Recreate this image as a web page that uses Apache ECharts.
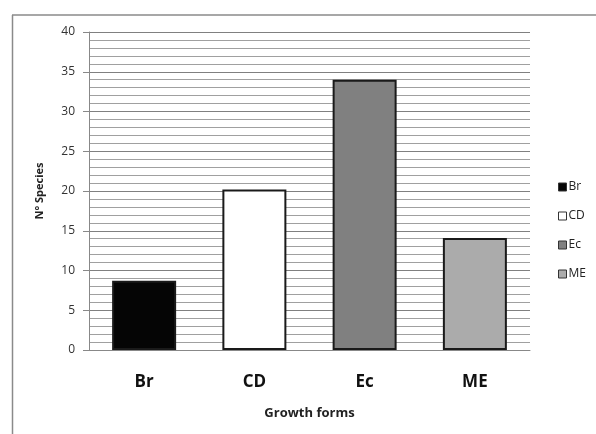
<!DOCTYPE html>
<html>
<head>
<meta charset="utf-8">
<script src="https://cdn.jsdelivr.net/npm/echarts@6/dist/echarts.min.js"></script>
<style>html,body{margin:0;padding:0;background:#fff}#c{width:596px;height:434px}</style>
</head>
<body>
<div id="c"></div>
<script>
var categories = ['Br', 'CD', 'Ec', 'ME'];
var values = [8.7, 20.2, 34.0, 14.1];
var colors = ['#050505', '#ffffff', '#808080', '#ababab'];
var yTicks = [0, 5, 10, 15, 20, 25, 30, 35, 40];

var chart = echarts.init(document.getElementById('c'), null, {renderer: 'canvas'});
var series = categories.map(function (name, i) {
  return {
    name: name,
    type: 'bar',
    barWidth: 64,
    barGap: '-100%',
    data: categories.map(function (c, j) { return j === i ? values[i] : null; }),
    itemStyle: { color: colors[i], borderColor: '#1a1a1a', borderWidth: 2 },
    z: 3
  };
});
chart.setOption({
  animation: false,
  backgroundColor: '#fff',
  textStyle: { fontFamily: 'Open Sans, Liberation Sans, sans-serif' },
  graphic: [
    { type: 'line', shape: { x1: 12, y1: 15, x2: 596, y2: 15 }, style: { stroke: '#8a8a8a', lineWidth: 1.5 } },
    { type: 'line', shape: { x1: 12.5, y1: 15, x2: 12.5, y2: 434 }, style: { stroke: '#8a8a8a', lineWidth: 1.5 } }
  ],
  grid: { left: 89, right: 66, top: 32, bottom: 84 },
  legend: {
    orient: 'vertical',
    left: 553,
    top: 176,
    itemWidth: 8,
    itemHeight: 8,
    itemGap: 17,
    icon: 'rect',
    textStyle: { fontSize: 12, color: '#222', padding: [0, 0, 0, -3] },
    data: categories.map(function (c) { return { name: c, itemStyle: { borderColor: '#333', borderWidth: 1 } }; })
  },
  xAxis: {
    type: 'category',
    data: categories,
    name: 'Growth forms',
    nameLocation: 'middle',
    nameGap: 57,
    nameTextStyle: { fontSize: 13, fontWeight: 'bold', color: '#222' },
    axisLine: { show: true, lineStyle: { color: '#888', width: 1 } },
    axisTick: { show: false },
    axisLabel: { fontSize: 17, fontWeight: 'bold', color: '#111', margin: 24 }
  },
  yAxis: {
    type: 'value',
    min: 0,
    max: 40,
    interval: 5,
    name: 'N° Species',
    nameLocation: 'middle',
    nameGap: 44,
    nameTextStyle: { fontSize: 11, fontWeight: 'bold', color: '#222' },
    axisLine: { show: true, lineStyle: { color: '#888', width: 1 } },
    axisTick: { show: true, length: 6, lineStyle: { color: '#888' } },
    axisLabel: { fontSize: 12, color: '#333', margin: 14,
      formatter: function (v) { return yTicks.indexOf(v) >= 0 ? String(v) : ''; } },
    splitLine: { show: true, lineStyle: { color: '#808080', width: 1 } },
    minorTick: { show: false, splitNumber: 5 },
    minorSplitLine: { show: true, lineStyle: { color: '#a0a0a0', width: 1 } }
  },
  series: series
});
</script>
</body>
</html>
